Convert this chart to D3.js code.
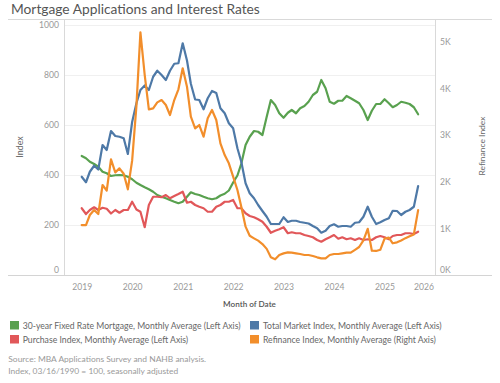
<!DOCTYPE html>
<html>
<head>
<meta charset="utf-8">
<script src="https://cdn.jsdelivr.net/npm/d3@7"></script>
<style>
  html, body { margin: 0; padding: 0; background: #fff; }
  svg { display: block; font-family: Lato, "Open Sans", sans-serif; }
</style>
</head>
<body>
<svg id="chart" width="500" height="383"></svg>
<script>
// ---------------- DATA ----------------
const startMonth = new Date(2019, 0, 1);
const endMonth = new Date(2025, 8, 1);   // Jan 2019 .. Sep 2025, monthly
const months = d3.timeMonth.range(startMonth, d3.timeMonth.offset(endMonth, 1));

const rate30yr = [476,467,453,444,433,413,407,396,399,400,399,393,
  383,369,360,351,343,333,320,313,307,300,293,287,
  293,313,331,324,320,313,307,303,307,318,325,338,
  370,398,445,520,553,576,573,560,633,700,680,647,
  629,649,660,647,667,676,693,720,733,780,747,693,
  685,697,697,716,707,697,687,660,620,657,684,684,
  703,687,671,680,693,689,684,671,643];

const totalMarket = [393,371,413,437,422,520,500,576,556,553,547,484,
  612,687,740,758,740,793,817,800,780,817,845,847,
  927,858,765,702,700,663,707,736,728,667,647,607,
  587,507,453,367,327,307,280,256,233,204,204,204,
  231,212,217,217,212,209,206,196,187,169,177,196,
  203,193,196,196,193,209,211,233,273,233,204,211,
  220,227,257,256,240,253,260,273,356];

const purchase = [267,244,260,271,260,269,265,246,260,249,260,260,
  293,262,253,191,280,313,313,311,320,307,316,324,
  333,289,293,280,273,267,253,253,273,280,293,293,
  300,267,267,247,236,231,223,213,193,169,177,183,
  191,167,171,167,167,160,156,151,140,133,143,151,
  160,145,151,143,147,140,147,140,143,140,151,156,
  151,143,156,160,160,167,167,164,173];

const refinance = [1071,1071,1286,1393,1307,1929,1807,2479,2200,2286,2170,1836,
  2450,3620,5200,4286,3550,3571,3700,3750,3643,3429,3750,3979,
  4429,4036,3393,3143,3214,2964,3357,3536,3321,2821,2571,2393,
  2107,1821,1464,1036,840,786,736,664,560,379,336,429,
  464,486,479,464,450,429,429,407,379,357,357,429,
  450,450,464,479,479,540,600,740,990,520,515,540,
  780,800,680,700,740,790,830,870,1390];

const leftTicks = [0, 200, 400, 600, 800, 1000];
const rightTicks = [0, 1000, 2000, 3000, 4000, 5000];
const yearTicks = [2019, 2020, 2021, 2022, 2023, 2024, 2025, 2026];

const seriesNames = [
  "30-year Fixed Rate Mortgage, Monthly Average (Left Axis)",
  "Total Market Index, Monthly Average (Left Axis)",
  "Purchase Index, Monthly Average (Left Axis)",
  "Refinance Index, Monthly Average (Right Axis)"
];
const seriesColors = ["#59a14f", "#4e79a7", "#e15759", "#f28e2b"];

// ---------------- LAYOUT ----------------
const svg = d3.select("#chart");
const plotLeft = 64, plotRight = 435, plotTop = 19, plotBottom = 275;

const x = d3.scaleTime()
  .domain([new Date(2019, 0, 1), new Date(2026, 0, 1)])
  .range([81.7, 435]);
const yL = d3.scaleLinear().domain([0, 1000]).range([plotBottom, 25]);
const yR = d3.scaleLinear().domain([0, 5000]).range([plotBottom, 41.7]);

function fit(sel, target) {
  const node = sel.node();
  const base = parseFloat(sel.attr("font-size"));
  const len = node.getComputedTextLength();
  if (len > 0) sel.attr("font-size", (base * target / len).toFixed(2));
  return sel;
}

// Title
fit(svg.append("text")
  .attr("x", 11).attr("y", 14)
  .attr("font-size", 15).attr("fill", "#555")
  .text("Mortgage Applications and Interest Rates"), 249);

// Frame line
svg.append("line").attr("x1", 8).attr("x2", 492).attr("y1", plotTop + 0.5).attr("y2", plotTop + 0.5)
  .attr("stroke", "#d9d9d9");

// Gridlines
svg.append("g").selectAll("line")
  .data(leftTicks.filter(d => d > 0))
  .join("line")
  .attr("x1", plotLeft).attr("x2", plotRight)
  .attr("y1", d => Math.round(yL(d)) + 0.5).attr("y2", d => Math.round(yL(d)) + 0.5)
  .attr("stroke", "#f0f0f0");

// Axis lines
svg.append("line").attr("x1", 8).attr("x2", 492).attr("y1", plotBottom + 0.5).attr("y2", plotBottom + 0.5)
  .attr("stroke", "#d4d4d4");
svg.append("line").attr("x1", plotLeft + 0.5).attr("x2", plotLeft + 0.5).attr("y1", plotTop).attr("y2", plotBottom)
  .attr("stroke", "#d9d9d9");
svg.append("line").attr("x1", plotRight + 0.5).attr("x2", plotRight + 0.5).attr("y1", plotTop).attr("y2", plotBottom)
  .attr("stroke", "#d9d9d9");

// Left axis
const gL = svg.append("g").attr("transform", `translate(${plotLeft},0)`)
  .call(d3.axisLeft(yL).tickValues(leftTicks).tickSize(0).tickPadding(5).tickFormat(d3.format("d")));
gL.select(".domain").remove();
gL.selectAll("text").attr("font-size", 8.6).attr("fill", "#999").attr("font-family", "Lato, sans-serif");
gL.selectAll(".tick").filter(d => d === 0).select("text").attr("dy", "-0.3em");

// Right axis
const gR = svg.append("g").attr("transform", `translate(${plotRight},0)`)
  .call(d3.axisRight(yR).tickValues(rightTicks).tickSize(0).tickPadding(5)
    .tickFormat(d => (d / 1000) + "K"));
gR.select(".domain").remove();
gR.selectAll("text").attr("font-size", 8.6).attr("fill", "#999").attr("font-family", "Lato, sans-serif");
gR.selectAll(".tick").filter(d => d === 0).select("text").attr("dy", "-0.3em");

// X axis
const gX = svg.append("g").attr("transform", `translate(0,${plotBottom})`)
  .call(d3.axisBottom(x).tickValues(yearTicks.map(yr => new Date(yr, 0, 1))).tickSize(0).tickPadding(8.5)
    .tickFormat(d3.timeFormat("%Y")));
gX.select(".domain").remove();
gX.selectAll("text").attr("font-size", 8.6).attr("fill", "#999").attr("font-family", "Lato, sans-serif");
gX.selectAll(".tick").filter(d => d.getFullYear() === 2026).select("text").attr("text-anchor", "end");
gX.selectAll(".tick").filter(d => d.getFullYear() === 2026).attr("transform", `translate(${plotRight - 1},0)`);

// Axis titles
fit(svg.append("text")
  .attr("transform", "translate(23,147) rotate(-90)")
  .attr("text-anchor", "middle").attr("font-size", 9).attr("fill", "#666")
  .text("Index"), 21.5);
fit(svg.append("text")
  .attr("transform", "translate(485,146) rotate(-90)")
  .attr("text-anchor", "middle").attr("font-size", 9).attr("fill", "#666")
  .text("Refinance Index"), 59);
fit(svg.append("text")
  .attr("x", 249.5).attr("y", 306.5)
  .attr("text-anchor", "middle").attr("font-size", 9.5).attr("font-weight", 600).attr("fill", "#555")
  .text("Month of Date"), 53);

// Lines
const seriesData = [
  { vals: rate30yr, axis: yL },
  { vals: totalMarket, axis: yL },
  { vals: purchase, axis: yL },
  { vals: refinance, axis: yR }
];
const lineG = svg.append("g");
seriesData.forEach((s, i) => {
  const line = d3.line()
    .x((d, j) => x(months[j]))
    .y(d => s.axis(d))
    .curve(d3.curveLinear);
  lineG.append("path")
    .datum(s.vals)
    .attr("d", line)
    .attr("fill", "none")
    .attr("stroke", seriesColors[i])
    .attr("stroke-width", 2.2)
    .attr("stroke-linejoin", "round")
    .attr("stroke-linecap", "round");
});

// Legend
const legendPos = [
  { sx: 10, tx: 22.7, y: 321, w: 218 },
  { sx: 250, tx: 263, y: 321, w: 178.7 },
  { sx: 10, tx: 22.7, y: 335, w: 165.7 },
  { sx: 250, tx: 263, y: 335, w: 173 }
];
seriesNames.forEach((name, i) => {
  const p = legendPos[i];
  svg.append("rect").attr("x", p.sx).attr("y", p.y).attr("width", 9).attr("height", 8.5)
    .attr("fill", seriesColors[i]);
  fit(svg.append("text").attr("x", p.tx).attr("y", p.y + 7.6)
    .attr("font-size", 9.5).attr("fill", "#666").text(name), p.w);
});

// Source notes
fit(svg.append("text").attr("x", 8.3).attr("y", 361.5).attr("font-size", 9).attr("fill", "#9a9a9a")
  .text("Source: MBA Applications Survey and NAHB analysis."), 198);
fit(svg.append("text").attr("x", 8.3).attr("y", 373.5).attr("font-size", 9).attr("fill", "#9a9a9a")
  .text("Index, 03/16/1990 = 100, seasonally adjusted"), 170);
</script>
</body>
</html>
